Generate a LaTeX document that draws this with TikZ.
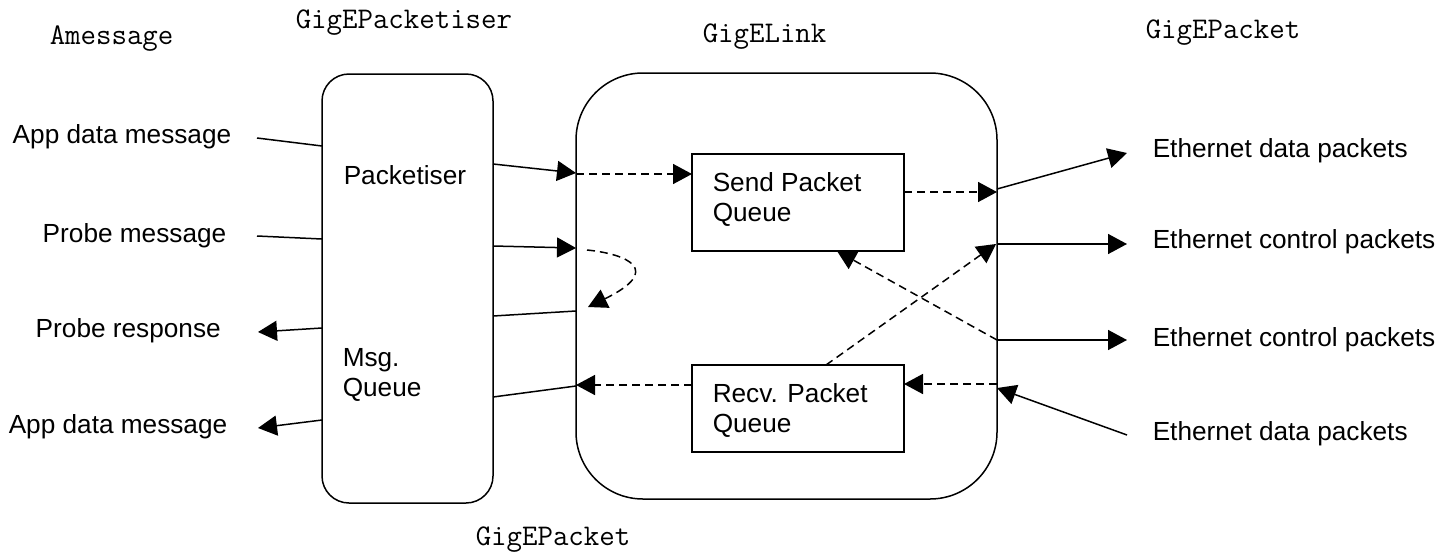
\documentclass[tikz,border=0pt]{standalone}
\usepackage{fontspec}
\setmainfont{Liberation Sans}
\usetikzlibrary{arrows.meta}

\begin{document}
\begin{tikzpicture}[x=0.5pt,y=-0.5pt,line width=0.75pt,
  tipped/.style={-{Triangle[length=9.5pt,width=10pt]}},
  dashline/.style={dash pattern=on 4pt off 2.5pt},
  txt/.style={font=\fontsize{13.1}{15}\selectfont,inner sep=0pt},
  cls/.style={font=\ttfamily\fontsize{15}{17}\selectfont,inner sep=0pt},
  component/.style={draw,inner sep=0pt},
  queuebox/.style={draw,inner sep=0pt,minimum width=106pt}]
\useasboundingbox (0,0) rectangle (1455,552);

% component outlines
\node[component,rounded corners=13.5pt,minimum width=85.5pt,minimum height=214.5pt]
  (pkt) at (407.5,288.5) {};
\node[component,rounded corners=33.5pt,minimum width=210.5pt,minimum height=213pt]
  (link) at (786.5,286) {};
\node[queuebox,minimum height=48.5pt] (send) at (798,202.5) {};
\node[queuebox,minimum height=43.5pt] (recv) at (798,408.5) {};

% class names
\node[cls,anchor=base west] (tAmsg) at (49,44) {Amessage};
\node[cls,anchor=base west] (tPktiser) at (295,28) {GigEPacketiser};
\node[cls,anchor=base west] (tLink) at (702,42) {GigELink};
\node[cls,anchor=base west] (tPktR) at (1145,38) {GigEPacket};
\node[cls,anchor=base west] (tPktB) at (475,545) {GigEPacket};

% labels inside the components
\node[txt,anchor=base west] (lPktiser) at (343,184) {Packetiser};
\node[txt,anchor=north west,align=left] (lMsgQ) at (342,348) {Msg.\\Queue};
\node[txt,anchor=north west,align=left] (lSend) at (712,172) {Send Packet\\Queue};
\node[txt,anchor=north west,align=left] (lRecv) at (712,383) {Recv. Packet\\Queue};

% application side
\node[txt,anchor=base west] (appIn) at (12,143) {App data message};
\node[txt,anchor=base west] (probeIn) at (42,242) {Probe message};
\node[txt,anchor=base west] (probeOut) at (35,337) {Probe response};
\node[txt,anchor=base west] (appOut) at (8,433) {App data message};

% network side
\node[txt,anchor=base west] (ethDataOut) at (1152,157) {Ethernet data packets};
\node[txt,anchor=base west] (ethCtlOut1) at (1152,248) {Ethernet control packets};
\node[txt,anchor=base west] (ethCtlOut2) at (1152,346) {Ethernet control packets};
\node[txt,anchor=base west] (ethDataIn) at (1152,440) {Ethernet data packets};

% connection points
\coordinate (appInE) at (257,138);   \coordinate (pktA) at (322,146);
\coordinate (probeInE) at (257,236); \coordinate (pktB) at (322,239);
\coordinate (probeOutE) at (258,332); \coordinate (pktC) at (322,328);
\coordinate (appOutE) at (258,428);  \coordinate (pktD) at (322,420);

\coordinate (pktR1) at (493,164); \coordinate (lnkL1) at (576,173);
\coordinate (lnkL1d) at (576,174); \coordinate (sendW) at (692,174);
\coordinate (pktR2) at (493,246); \coordinate (lnkL2) at (576,248);
\coordinate (loopS) at (587,250); \coordinate (loopE) at (588,307);
\coordinate (pktR3) at (493,316); \coordinate (lnkL3) at (576,311);
\coordinate (recvW) at (692,385); \coordinate (lnkL4) at (576,385);
\coordinate (pktR4) at (493,397); \coordinate (lnkL4s) at (576,386);

\coordinate (sendE) at (904,192); \coordinate (lnkR1) at (997,192);
\coordinate (lnkR1s) at (997,189); \coordinate (ethDataOutW) at (1127,153);
\coordinate (recvN) at (826,365); \coordinate (lnkR2) at (996,244);
\coordinate (lnkR2s) at (997,244); \coordinate (ethCtlOut1W) at (1127,244);
\coordinate (lnkR3) at (997,340); \coordinate (sendS) at (837,251);
\coordinate (ethCtlOut2W) at (1127,340);
\coordinate (lnkR4) at (997,384); \coordinate (recvE) at (904,384);
\coordinate (ethDataInW) at (1127,435); \coordinate (lnkR4s) at (997,388);

% application messages
\draw (appInE) -- (pktA);
\draw (probeInE) -- (pktB);
\draw[tipped] (pktC) -- (probeOutE);
\draw[tipped] (pktD) -- (appOutE);

% packetiser to link
\draw[tipped] (pktR1) -- (lnkL1);
\draw[tipped,dashline] (lnkL1d) -- (sendW);
\draw[tipped] (pktR2) -- (lnkL2);
\draw[tipped,dashline] (loopS) .. controls (627,254) and (664,270) .. (loopE);
\draw (pktR3) -- (lnkL3);
\draw[tipped,dashline] (recvW) -- (lnkL4);
\draw (pktR4) -- (lnkL4s);

% link to network
\draw[tipped,dashline] (sendE) -- (lnkR1);
\draw[tipped] (lnkR1s) -- (ethDataOutW);
\draw[tipped,dashline] (recvN) -- (lnkR2);
\draw[tipped] (lnkR2s) -- (ethCtlOut1W);
\draw[tipped,dashline] (lnkR3) -- (sendS);
\draw[tipped] (lnkR3) -- (ethCtlOut2W);
\draw[tipped,dashline] (lnkR4) -- (recvE);
\draw[tipped] (ethDataInW) -- (lnkR4s);
\end{tikzpicture}
\end{document}
